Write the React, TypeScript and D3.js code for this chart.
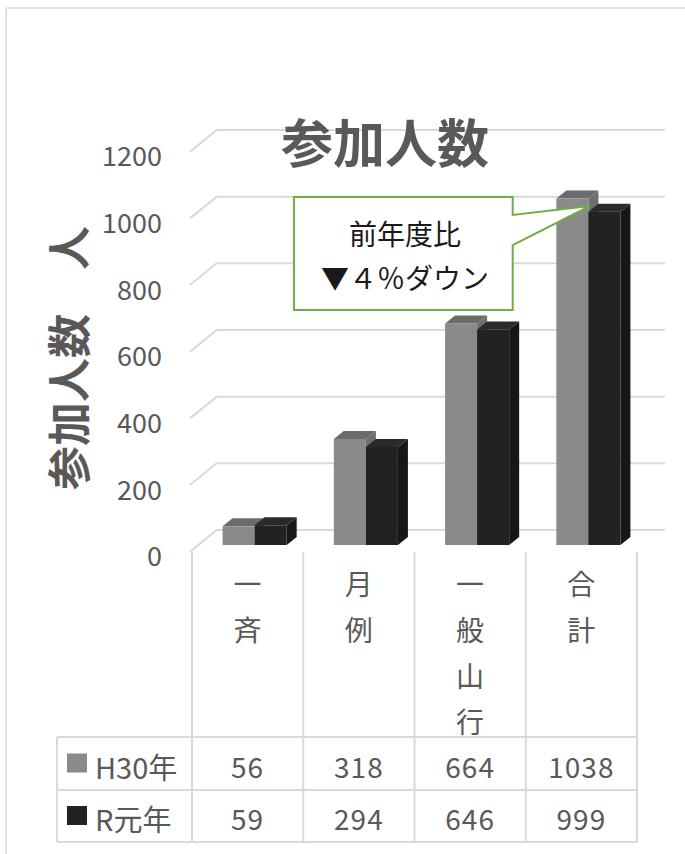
import React from 'react';
import * as d3 from 'd3';

const categories = ['一斉', '月例', '一般山行', '合計'];
const seriesNames = ['H30年', 'R元年'];
const h30 = [56, 318, 664, 1038];
const r1 = [59, 294, 646, 999];
const yTicks = [0, 200, 400, 600, 800, 1000, 1200];
const seriesValues = [h30, r1];
const title = '参加人数';
const yTitle = '参加人数　人';
const calloutLines = ['前年度比', '▼４％ダウン'];

const FONT = '"Noto Sans CJK JP", "Noto Sans", sans-serif';
const TXT = '#595959';
const GRID = '#d9d9d9';
const faceColors = [
  { front: '#8a8a8a', top: '#6b6b6b', side: '#6e6e6e' },
  { front: '#222222', top: '#2a2a2a', side: '#171717' },
];

export default function App() {
  const x = d3.scaleBand<string>().domain(categories).range([192, 637]).padding(0);
  const bw = x.bandwidth();
  const yFront = d3.scaleLinear().domain([0, 1200]).range([551.7, 151.7]);
  const yBar = d3.scaleLinear().domain([0, 1200]).range([545, 545 - 1200 * 0.3337]);
  const depthX = 26.7, depthY = -21.7; // floor depth
  const gridRight = 665;
  const barW = bw * 0.288;
  const bdx = 10, bdy = -8;
  const groupOffset = 7;

  const bars: JSX.Element[] = [];
  categories.forEach((c, ci) => {
    const center = (x(c) as number) + bw / 2 + groupOffset;
    seriesValues.forEach((vals, si) => {
      const v = vals[ci];
      const x0 = center - barW + si * barW;
      const x1 = x0 + barW;
      const yt = yBar(v);
      const yb = yBar(0);
      const col = faceColors[si];
      bars.push(
        <g key={`${ci}-${si}`}>
          <polygon points={`${x1},${yt} ${x1 + bdx},${yt + bdy} ${x1 + bdx},${yb + bdy} ${x1},${yb}`} fill={col.side} />
          <polygon points={`${x0},${yt} ${x0 + bdx},${yt + bdy} ${x1 + bdx},${yt + bdy} ${x1},${yt}`} fill={col.top} />
          <rect x={x0} y={yt} width={barW} height={yb - yt} fill={col.front} />
        </g>
      );
    });
  });

  const colEdges = [...categories.map((c) => x(c) as number), 637];
  const tableTop = 737, rowMid = 790, tableBottom = 842, tableLeft = 57;
  const rows = [tableTop, rowMid, tableBottom];

  return (
    <svg width={685} height={854} style={{ position: 'absolute', left: 0, top: 0, background: '#fff' }} fontFamily={FONT}>
      <rect x={0} y={0} width={685} height={854} fill="#fff" />
      {/* frame */}
      <line x1={6} y1={8} x2={685} y2={8} stroke={GRID} strokeWidth={1.5} />
      <line x1={6} y1={8} x2={6} y2={854} stroke={GRID} strokeWidth={1.5} />

      {/* gridlines */}
      {yTicks.map((t) => (
        <g key={t}>
          <polyline
            points={`190,${yFront(t)} ${190 + depthX},${yFront(t) + depthY} ${gridRight},${yFront(t) + depthY}`}
            fill="none"
            stroke={GRID}
            strokeWidth={2}
          />
          <text x={162} y={yFront(t) + 3} textAnchor="end" dominantBaseline="central" fontSize={27} fill={TXT}>
            {t}
          </text>
        </g>
      ))}

      {/* category lines */}
      {colEdges.map((cx, i) => (
        <line key={i} x1={cx} y1={552} x2={cx} y2={tableBottom} stroke={GRID} strokeWidth={2} />
      ))}

      {bars}

      {/* category labels */}
      {categories.map((c) => {
        const cx = (x(c) as number) + bw / 2;
        return (
          <text key={c} x={cx} textAnchor="middle" fontSize={28} fill={TXT}>
            {Array.from(c).map((ch, i) => (
              <tspan key={i} x={cx} y={583 + i * 46} dominantBaseline="central">
                {ch}
              </tspan>
            ))}
          </text>
        );
      })}

      {/* table */}
      {rows.map((ry, i) => (
        <line key={i} x1={tableLeft} y1={ry} x2={637} y2={ry} stroke={GRID} strokeWidth={2} />
      ))}
      <line x1={tableLeft} y1={tableTop} x2={tableLeft} y2={tableBottom} stroke={GRID} strokeWidth={2} />
      {seriesNames.map((name, si) => {
        const cy = (rows[si] + rows[si + 1]) / 2;
        return (
          <g key={name}>
            <rect x={67} y={cy - 10} width={20} height={19} fill={faceColors[si].front} />
            <text x={95} y={cy + 2} dominantBaseline="central" fontSize={29} fill={TXT}>
              {name}
            </text>
            {seriesValues[si].map((v, ci) => (
              <text
                key={ci}
                x={(x(categories[ci]) as number) + bw / 2}
                y={cy + 2}
                textAnchor="middle"
                dominantBaseline="central"
                fontSize={28}
                letterSpacing={1}
                fill={TXT}
              >
                {v}
              </text>
            ))}
          </g>
        );
      })}

      {/* title */}
      <text x={385} y={140} textAnchor="middle" dominantBaseline="central" fontSize={52} fontWeight="bold" fill={TXT}>
        {title}
      </text>

      {/* y axis title */}
      <text
        transform={`translate(67,358) rotate(-90)`}
        textAnchor="middle"
        dominantBaseline="central"
        fontSize={44}
        fontWeight="bold"
        fill={TXT}
      >
        {yTitle}
      </text>

      {/* callout */}
      <path
        d="M294,197 L512.7,197 L512.7,215 L590,206 L512.7,245 L512.7,310 L294,310 Z"
        fill="#fff"
        stroke="#70ad47"
        strokeWidth={2}
      />
      {calloutLines.map((l, i) => (
        <text key={i} x={405} y={233 + i * 44} textAnchor="middle" dominantBaseline="central" fontSize={28} fill="#1a1a1a">
          {l}
        </text>
      ))}
    </svg>
  );
}
